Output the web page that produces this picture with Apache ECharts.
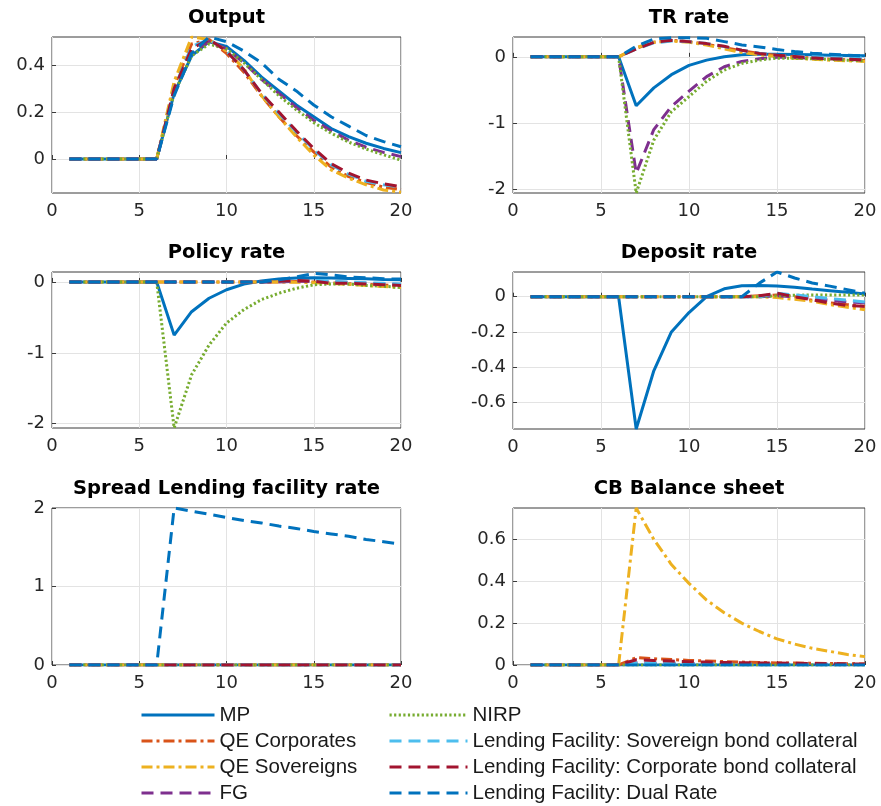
<!DOCTYPE html>
<html>
<head>
<meta charset="utf-8">
<script src="https://cdn.jsdelivr.net/npm/echarts@6/dist/echarts.min.js"></script>
<style>
  html, body { margin: 0; padding: 0; background: #fff; }
  #chart { width: 881px; height: 806px; }
</style>
</head>
<body>
<div id="chart"></div>
<script>
// Impulse responses over 20 periods, shock hits in period 7.
const periods = [1, 2, 3, 4, 5, 6, 7, 8, 9, 10, 11, 12, 13, 14, 15, 16, 17, 18, 19, 20];

const seriesNames = [
  'MP',
  'QE Corporates',
  'QE Sovereigns',
  'FG',
  'NIRP',
  'Lending Facility: Sovereign bond collateral',
  'Lending Facility: Corporate bond collateral',
  'Lending Facility: Dual Rate'
];

const panelTitles = ['Output', 'TR rate', 'Policy rate', 'Deposit rate', 'Spread Lending facility rate', 'CB Balance sheet'];

// One row per scenario, in the order of seriesNames.
const outputValues = [
  [0, 0, 0, 0, 0, 0, 0.28, 0.44, 0.50, 0.48, 0.42, 0.35, 0.29, 0.23, 0.18, 0.13, 0.095, 0.067, 0.045, 0.027],
  [0, 0, 0, 0, 0, 0, 0.31, 0.49, 0.51, 0.45, 0.37, 0.27, 0.18, 0.10, 0.03, -0.035, -0.075, -0.10, -0.12, -0.13],
  [0, 0, 0, 0, 0, 0, 0.33, 0.52, 0.51, 0.46, 0.385, 0.27, 0.18, 0.095, 0.017, -0.047, -0.082, -0.11, -0.132, -0.142],
  [0, 0, 0, 0, 0, 0, 0.29, 0.45, 0.50, 0.47, 0.41, 0.34, 0.28, 0.22, 0.165, 0.12, 0.08, 0.05, 0.028, 0.01],
  [0, 0, 0, 0, 0, 0, 0.28, 0.44, 0.49, 0.47, 0.41, 0.34, 0.27, 0.21, 0.155, 0.11, 0.072, 0.042, 0.018, -0.005],
  [0, 0, 0, 0, 0, 0, 0.30, 0.48, 0.51, 0.46, 0.38, 0.28, 0.195, 0.115, 0.04, -0.025, -0.065, -0.095, -0.11, -0.12],
  [0, 0, 0, 0, 0, 0, 0.30, 0.47, 0.51, 0.46, 0.38, 0.28, 0.20, 0.12, 0.045, -0.02, -0.06, -0.09, -0.106, -0.118],
  [0, 0, 0, 0, 0, 0, 0.27, 0.45, 0.52, 0.50, 0.46, 0.41, 0.34, 0.29, 0.23, 0.18, 0.14, 0.10, 0.074, 0.052]
];

const trRateValues = [
  [0, 0, 0, 0, 0, 0, -0.74, -0.47, -0.27, -0.13, -0.05, 0.0, 0.03, 0.04, 0.04, 0.035, 0.03, 0.025, 0.02, 0.015],
  [0, 0, 0, 0, 0, 0, 0.13, 0.22, 0.25, 0.23, 0.19, 0.14, 0.09, 0.05, 0.02, 0.0, -0.02, -0.035, -0.045, -0.055],
  [0, 0, 0, 0, 0, 0, 0.14, 0.22, 0.24, 0.22, 0.18, 0.12, 0.065, 0.03, 0.005, -0.02, -0.035, -0.05, -0.06, -0.07],
  [0, 0, 0, 0, 0, 0, -1.76, -1.10, -0.75, -0.52, -0.30, -0.15, -0.07, -0.03, -0.005, -0.01, -0.02, -0.03, -0.04, -0.05],
  [0, 0, 0, 0, 0, 0, -2.06, -1.26, -0.83, -0.60, -0.37, -0.20, -0.10, -0.05, -0.02, -0.02, -0.03, -0.04, -0.05, -0.06],
  [0, 0, 0, 0, 0, 0, 0.12, 0.21, 0.24, 0.23, 0.20, 0.155, 0.10, 0.055, 0.025, 0.01, 0.0, -0.01, -0.015, -0.02],
  [0, 0, 0, 0, 0, 0, 0.12, 0.22, 0.25, 0.23, 0.20, 0.16, 0.10, 0.05, 0.025, 0.005, -0.015, -0.03, -0.035, -0.045],
  [0, 0, 0, 0, 0, 0, 0.16, 0.27, 0.29, 0.29, 0.28, 0.23, 0.18, 0.15, 0.11, 0.08, 0.055, 0.04, 0.025, 0.015]
];

const policyRateValues = [
  [0, 0, 0, 0, 0, 0, -0.75, -0.42, -0.23, -0.11, -0.03, 0.014, 0.04, 0.055, 0.06, 0.055, 0.05, 0.045, 0.035, 0.03],
  [0, 0, 0, 0, 0, 0, 0, 0, 0, 0, 0, 0, 0, 0.005, 0.0, -0.015, -0.025, -0.035, -0.045, -0.055],
  [0, 0, 0, 0, 0, 0, 0, 0, 0, 0, 0, 0, 0, -0.005, -0.01, -0.02, -0.035, -0.05, -0.065, -0.08],
  [0, 0, 0, 0, 0, 0, 0, 0, 0, 0, 0, 0, 0, 0.01, 0.01, 0.0, -0.01, -0.02, -0.03, -0.035],
  [0, 0, 0, 0, 0, 0, -2.06, -1.31, -0.89, -0.58, -0.39, -0.25, -0.16, -0.09, -0.04, -0.03, -0.03, -0.05, -0.06, -0.08],
  [0, 0, 0, 0, 0, 0, 0, 0, 0, 0, 0, 0, 0.01, 0.02, 0.02, 0.01, 0.0, -0.01, -0.02, -0.03],
  [0, 0, 0, 0, 0, 0, 0, 0, 0, 0, 0, 0, 0.01, 0.02, 0.01, -0.02, -0.02, -0.03, -0.04, -0.05],
  [0, 0, 0, 0, 0, 0, 0, 0, 0, 0, 0, 0, 0.03, 0.07, 0.12, 0.10, 0.07, 0.06, 0.045, 0.04]
];

const depositRateValues = [
  [0, 0, 0, 0, 0, 0, -0.75, -0.42, -0.20, -0.09, 0.0, 0.045, 0.062, 0.064, 0.06, 0.053, 0.043, 0.034, 0.025, 0.015],
  [0, 0, 0, 0, 0, 0, 0, 0, 0, 0, 0, 0, 0, 0.005, 0.01, 0.0, -0.02, -0.035, -0.045, -0.055],
  [0, 0, 0, 0, 0, 0, 0, 0, 0, 0, 0, 0, 0, 0, -0.005, -0.015, -0.026, -0.045, -0.06, -0.074],
  [0, 0, 0, 0, 0, 0, 0, 0, 0, 0, 0, 0, 0, 0, 0.005, 0.0, -0.01, -0.02, -0.03, -0.035],
  [0, 0, 0, 0, 0, 0, 0, 0, 0, 0, 0, 0, 0, 0.0, 0.005, 0.008, 0.01, 0.01, 0.01, 0.01],
  [0, 0, 0, 0, 0, 0, 0, 0, 0, 0, 0, 0, 0, 0, 0.02, 0.01, 0.0, -0.01, -0.02, -0.03],
  [0, 0, 0, 0, 0, 0, 0, 0, 0, 0, 0, 0, 0, 0.005, 0.02, 0.0, -0.017, -0.036, -0.05, -0.055],
  [0, 0, 0, 0, 0, 0, 0, 0, 0, 0, 0, 0, 0, 0.077, 0.14, 0.106, 0.078, 0.06, 0.04, 0.02]
];

const spreadValues = [
  [0, 0, 0, 0, 0, 0, 0, 0, 0, 0, 0, 0, 0, 0, 0, 0, 0, 0, 0, 0],
  [0, 0, 0, 0, 0, 0, 0, 0, 0, 0, 0, 0, 0, 0, 0, 0, 0, 0, 0, 0],
  [0, 0, 0, 0, 0, 0, 0, 0, 0, 0, 0, 0, 0, 0, 0, 0, 0, 0, 0, 0],
  [0, 0, 0, 0, 0, 0, 0, 0, 0, 0, 0, 0, 0, 0, 0, 0, 0, 0, 0, 0],
  [0, 0, 0, 0, 0, 0, 0, 0, 0, 0, 0, 0, 0, 0, 0, 0, 0, 0, 0, 0],
  [0, 0, 0, 0, 0, 0, 0, 0, 0, 0, 0, 0, 0, 0, 0, 0, 0, 0, 0, 0],
  [0, 0, 0, 0, 0, 0, 0, 0, 0, 0, 0, 0, 0, 0, 0, 0, 0, 0, 0, 0],
  [0, 0, 0, 0, 0, 0, 2.0, 1.96, 1.92, 1.88, 1.84, 1.81, 1.77, 1.74, 1.70, 1.67, 1.64, 1.60, 1.57, 1.54]
];

const balanceSheetValues = [
  [0, 0, 0, 0, 0, 0, 0, 0, 0, 0, 0, 0, 0, 0, 0, 0, 0, 0, 0, 0],
  [0, 0, 0, 0, 0, 0, 0.035, 0.03, 0.026, 0.022, 0.019, 0.016, 0.014, 0.012, 0.01, 0.009, 0.008, 0.007, 0.006, 0.005],
  [0, 0, 0, 0, 0, 0, 0.75, 0.60, 0.48, 0.39, 0.31, 0.25, 0.20, 0.16, 0.125, 0.10, 0.08, 0.065, 0.05, 0.04],
  [0, 0, 0, 0, 0, 0, 0.01, 0.01, 0.009, 0.008, 0.007, 0.006, 0.005, 0.005, 0.004, 0.004, 0.003, 0.003, 0.003, 0.002],
  [0, 0, 0, 0, 0, 0, 0, 0, 0, 0, 0, 0, 0, 0, 0, 0, 0, 0, 0, 0],
  [0, 0, 0, 0, 0, 0, 0.01, 0.009, 0.008, 0.007, 0.006, 0.005, 0.005, 0.004, 0.004, 0.003, 0.003, 0.003, 0.002, 0.002],
  [0, 0, 0, 0, 0, 0, 0.025, 0.022, 0.019, 0.016, 0.014, 0.012, 0.011, 0.01, 0.009, 0.008, 0.007, 0.006, 0.005, 0.005],
  [0, 0, 0, 0, 0, 0, 0, 0, 0, 0, 0, 0, 0, 0, 0, 0, 0, 0, 0, 0]
];

// Y axis ranges and tick labels per panel.
const yRanges = [[-0.145, 0.52], [-2.06, 0.30], [-2.06, 0.14], [-0.75, 0.14], [0, 2], [0, 0.75]];
const yTicks = [[0, 0.2, 0.4], [-2, -1, 0], [-2, -1, 0], [-0.6, -0.4, -0.2, 0], [0, 1, 2], [0, 0.2, 0.4, 0.6]];
const xTicks = [0, 5, 10, 15, 20];

const panelValues = [outputValues, trRateValues, policyRateValues, depositRateValues, spreadValues, balanceSheetValues];

// Line styles: colour and dash pattern per scenario.
const lineColors = ['#0072BD', '#D95319', '#EDB120', '#7E2F8E', '#77AC30', '#4DBEEE', '#A2142F', '#0072BD'];
const DASH = [12, 7];
const DASHDOT = [11, 4, 3, 4];
const DOT = [2.2, 2.4];
const lineDashes = ['solid', DASHDOT, DASHDOT, DASH, DOT, DASH, DASH, DASH];

// Panel placement (px): left, top, width, height.
const gridBoxes = [
  [52, 37, 349, 156], [513, 37, 352, 156],
  [52, 272, 349, 156], [513, 272, 352, 157],
  [52, 508, 349, 157], [513, 508, 352, 157]
];

const chart = echarts.init(document.getElementById('chart'), null, { renderer: 'canvas' });

const labelFont = { fontFamily: 'DejaVu Sans', fontSize: 18, color: '#262626' };

const grids = gridBoxes.map(b => ({
  left: b[0], top: b[1], width: b[2], height: b[3],
  show: true, borderColor: '#3a3a3a', borderWidth: 1, backgroundColor: '#fff'
}));

// Bold heading centred over each panel.
const titles = gridBoxes.map((b, i) => ({
  text: panelTitles[i],
  left: b[0] + b[2] / 2,
  top: b[1] - 29,
  textAlign: 'center',
  padding: 0,
  textStyle: { fontFamily: 'DejaVu Sans', fontWeight: 'bold', fontSize: 19.5, color: '#000' }
}));

const xAxes = gridBoxes.map((b, i) => ({
  type: 'value', gridIndex: i, min: 0, max: 20,
  axisLine: { show: false },
  axisTick: { show: true, inside: true, length: 4, customValues: xTicks, lineStyle: { color: '#3a3a3a' } },
  axisLabel: Object.assign({ margin: 9, customValues: xTicks }, labelFont),
  splitLine: { show: true, lineStyle: { color: '#e3e3e3', width: 1 } }
}));

const yAxes = gridBoxes.map((b, i) => ({
  type: 'value', gridIndex: i, min: yRanges[i][0], max: yRanges[i][1],
  axisLine: { show: false },
  axisTick: { show: true, inside: true, length: 4, customValues: yTicks[i], lineStyle: { color: '#3a3a3a' } },
  axisLabel: Object.assign({ margin: 7, customValues: yTicks[i], showMinLabel: true, showMaxLabel: true }, labelFont),
  splitLine: { show: true, lineStyle: { color: '#e3e3e3', width: 1 } }
}));

const series = [];
panelValues.forEach((rows, g) => {
  rows.forEach((vals, s) => {
    series.push({
      type: 'line',
      name: seriesNames[s],
      xAxisIndex: g,
      yAxisIndex: g,
      data: periods.map((t, k) => [t, vals[k]]),
      symbol: 'none',
      showSymbol: false,
      clip: true,
      silent: true,
      lineStyle: { color: lineColors[s], width: 3, type: lineDashes[s], cap: 'butt' },
      itemStyle: { color: lineColors[s] }
    });
  });
});

const legendText = { fontFamily: 'Liberation Sans', fontSize: 20.5, color: '#1a1a1a', lineHeight: 26 };
// Legend keys show only the line sample, no marker.
const hiddenMarker = { color: 'rgba(0,0,0,0)', borderColor: 'rgba(0,0,0,0)', borderWidth: 0 };

chart.setOption({
  animation: false,
  backgroundColor: '#fff',
  title: titles,
  grid: grids,
  xAxis: xAxes,
  yAxis: yAxes,
  legend: [
    {
      data: seriesNames.slice(0, 4),
      orient: 'vertical', left: 140, top: 702, height: 120,
      itemWidth: 73, itemHeight: 12, itemGap: 0, padding: 0,
      selectedMode: false,
      itemStyle: hiddenMarker,
      lineStyle: { width: 3 },
      textStyle: legendText
    },
    {
      data: seriesNames.slice(4),
      orient: 'vertical', left: 388, top: 702, height: 120,
      itemWidth: 78, itemHeight: 12, itemGap: 0, padding: 0,
      selectedMode: false,
      itemStyle: hiddenMarker,
      lineStyle: { width: 3 },
      textStyle: legendText
    }
  ],
  series: series
});
</script>
</body>
</html>
